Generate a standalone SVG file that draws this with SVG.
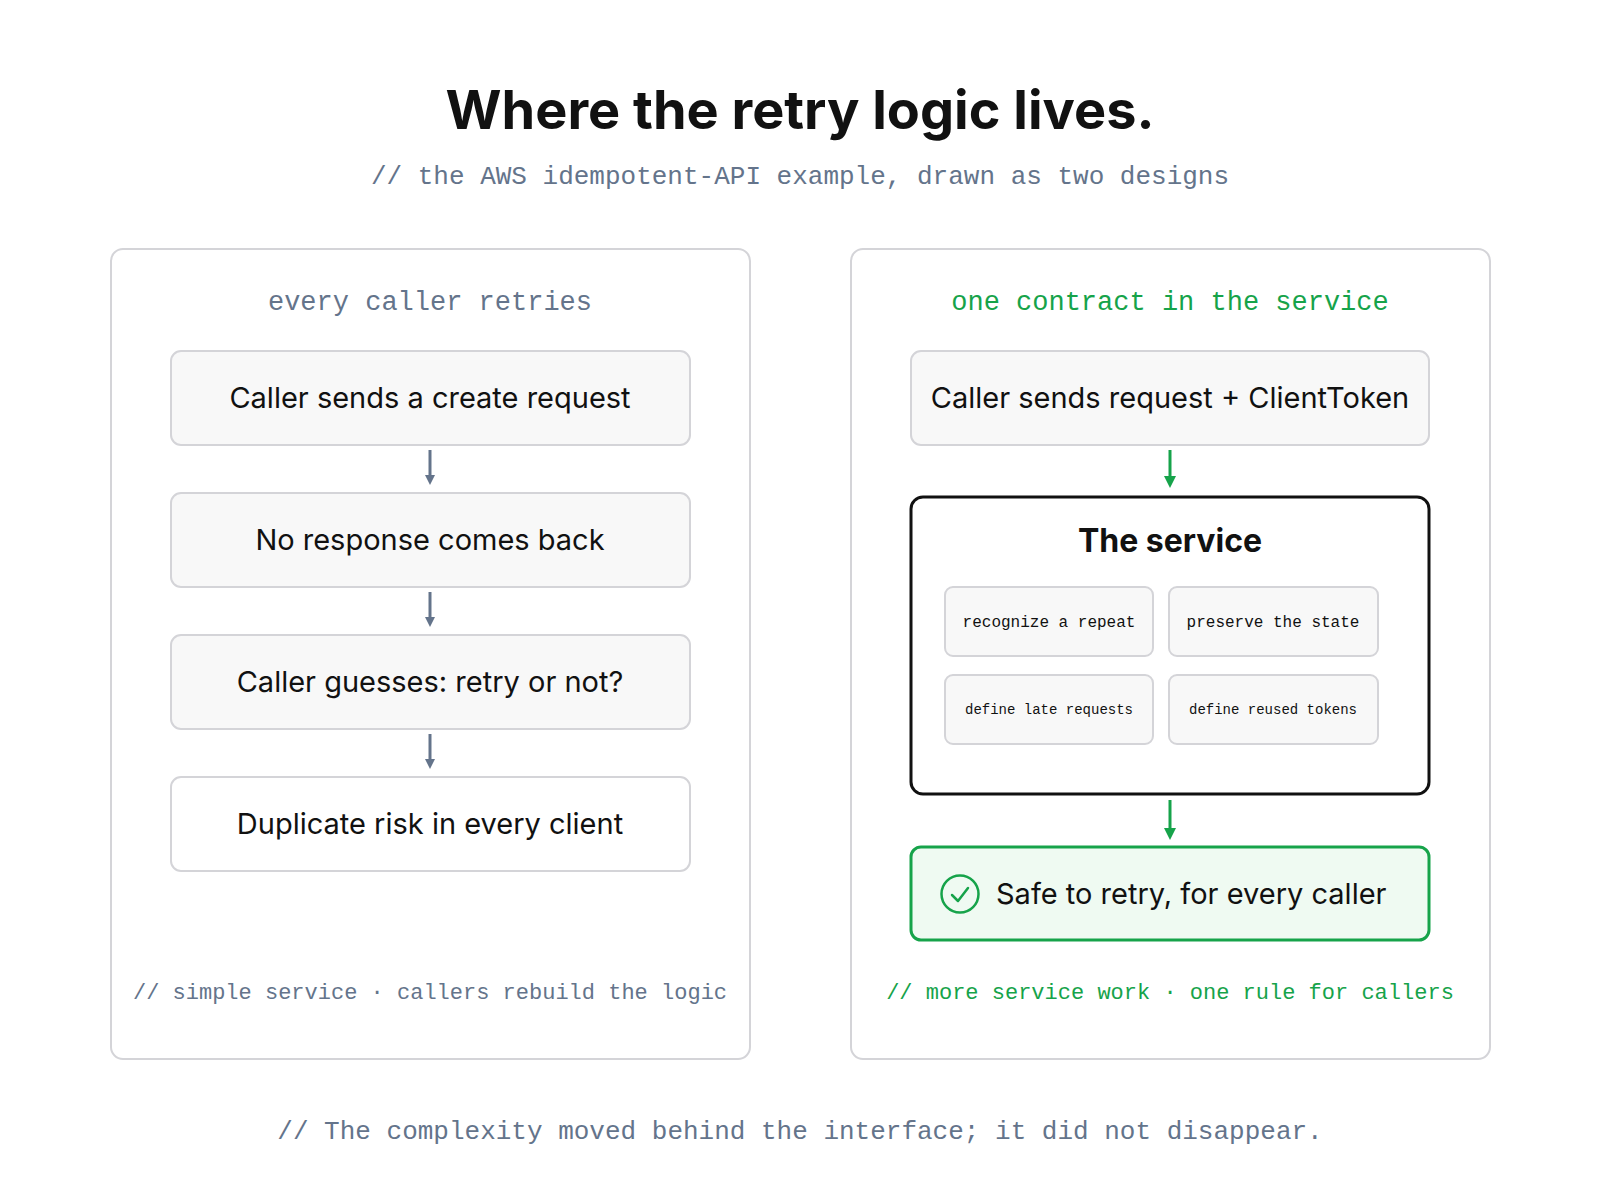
<svg xmlns="http://www.w3.org/2000/svg" width="1600" height="1200" viewBox="0 0 1600 1200">
<defs>
<style>
.sans{font-family:Inter,"Liberation Sans",sans-serif}
.mono{font-family:"Liberation Mono","DejaVu Sans Mono",monospace}
.panel{fill:#fff;stroke:#d4d4d8;stroke-width:2}
.box{fill:#f8f8f8;stroke:#d4d4d8;stroke-width:2}
.sub{fill:#f8f8f8;stroke:#d4d4d8;stroke-width:2}
.bt{font-size:29px;fill:#111;text-anchor:middle}
.st{font-size:16px;fill:#111;text-anchor:middle}
.gl{stroke:#64748b;stroke-width:3}
.gr{stroke:#16a34a;stroke-width:3}
</style>
<marker id="ag" markerWidth="10" markerHeight="10" refX="5" refY="5" orient="auto" markerUnits="userSpaceOnUse" viewBox="0 0 10 10"><path d="M0,0L10,5L0,10z" fill="#64748b"/></marker>
<marker id="agr" markerWidth="12" markerHeight="12" refX="6" refY="6" orient="auto" markerUnits="userSpaceOnUse" viewBox="0 0 12 12"><path d="M0,0L12,6L0,12z" fill="#16a34a"/></marker>
</defs>
<rect width="1600" height="1200" fill="#fff"/>
<text x="800" y="129" class="sans" font-size="54" font-weight="700" fill="#111" text-anchor="middle">Where the retry logic lives.</text>
<text x="800" y="184" class="mono" font-size="26" fill="#64748b" text-anchor="middle">// the AWS idempotent-API example, drawn as two designs</text>

<g id="left-panel">
<rect class="panel" x="111" y="249" width="639" height="810" rx="12"/>
<text x="430" y="310" class="mono" font-size="27" fill="#64748b" text-anchor="middle">every caller retries</text>
<text x="430" y="999" class="mono" font-size="22" fill="#64748b" text-anchor="middle">// simple service · callers rebuild the logic</text>
</g>
<g id="l1"><rect class="box" x="171" y="351" width="519" height="94" rx="10"/><text x="430" y="408" class="sans bt">Caller sends a create request</text></g>
<g id="l2"><rect class="box" x="171" y="493" width="519" height="94" rx="10"/><text x="430" y="550" class="sans bt">No response comes back</text></g>
<g id="l3"><rect class="box" x="171" y="635" width="519" height="94" rx="10"/><text x="430" y="692" class="sans bt">Caller guesses: retry or not?</text></g>
<g id="l4"><rect x="171" y="777" width="519" height="94" rx="10" fill="#fff" stroke="#d4d4d8" stroke-width="2"/><text x="430" y="834" class="sans bt">Duplicate risk in every client</text></g>

<g id="right-panel">
<rect class="panel" x="851" y="249" width="639" height="810" rx="12"/>
<text x="1170" y="310" class="mono" font-size="27" fill="#16a34a" text-anchor="middle">one contract in the service</text>
<text x="1170" y="999" class="mono" font-size="22" fill="#16a34a" text-anchor="middle">// more service work · one rule for callers</text>
</g>
<g id="r1"><rect class="box" x="911" y="351" width="518" height="94" rx="10"/><text x="1170" y="408" class="sans bt">Caller sends request + ClientToken</text></g>
<g id="service">
<rect x="911" y="497" width="518" height="297" rx="12" fill="#fff" stroke="#111" stroke-width="3"/>
<text x="1170" y="552" class="sans" font-size="32" font-weight="700" fill="#111" text-anchor="middle">The service</text>
<g id="s1"><rect class="sub" x="945" y="587" width="208" height="69" rx="8"/><text x="1049" y="627" class="mono st">recognize a repeat</text></g>
<g id="s2"><rect class="sub" x="1169" y="587" width="209" height="69" rx="8"/><text x="1273" y="627" class="mono st">preserve the state</text></g>
<g id="s3"><rect class="sub" x="945" y="675" width="208" height="69" rx="8"/><text x="1049" y="714" class="mono" font-size="14" fill="#111" text-anchor="middle">define late requests</text></g>
<g id="s4"><rect class="sub" x="1169" y="675" width="209" height="69" rx="8"/><text x="1273" y="714" class="mono" font-size="14" fill="#111" text-anchor="middle">define reused tokens</text></g>
</g>
<g id="safe">
<rect x="911" y="847" width="518" height="93" rx="10" fill="#effaf2" stroke="#16a34a" stroke-width="3"/>
<circle cx="960" cy="894" r="18.5" fill="none" stroke="#16a34a" stroke-width="2.5"/>
<path d="M952,895 L958,901 L968,888" fill="none" stroke="#16a34a" stroke-width="2.5" stroke-linecap="round" stroke-linejoin="round"/>
<text x="996" y="904" class="sans" font-size="29" fill="#111">Safe to retry, for every caller</text>
</g>

<g id="connectors">
<line class="gl" x1="430" y1="450" x2="430" y2="480" marker-end="url(#ag)"/>
<line class="gl" x1="430" y1="592" x2="430" y2="622" marker-end="url(#ag)"/>
<line class="gl" x1="430" y1="734" x2="430" y2="764" marker-end="url(#ag)"/>
<line class="gr" x1="1170" y1="450" x2="1170" y2="482" marker-end="url(#agr)"/>
<line class="gr" x1="1170" y1="800" x2="1170" y2="834" marker-end="url(#agr)"/>
</g>

<text x="800" y="1139" class="mono" font-size="26" fill="#64748b" text-anchor="middle">// The complexity moved behind the interface; it did not disappear.</text>
</svg>
